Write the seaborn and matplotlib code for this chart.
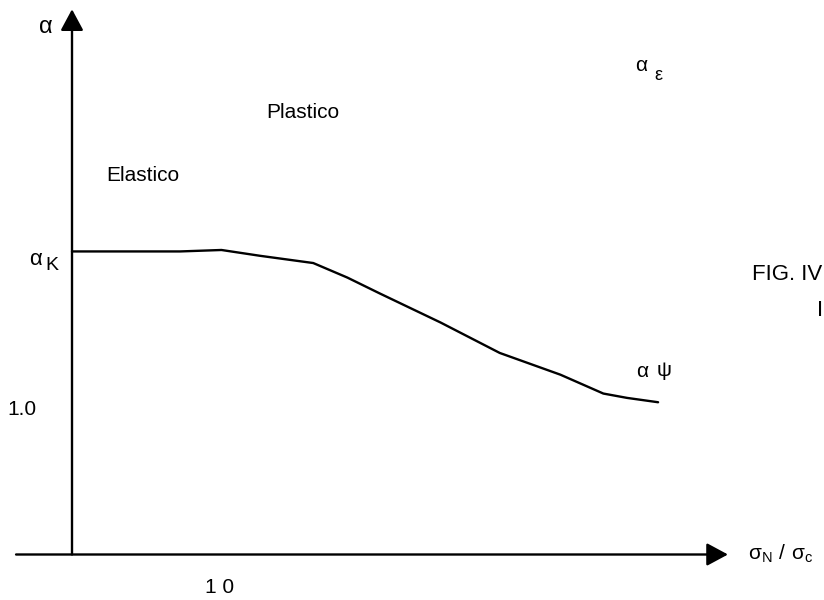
import matplotlib
matplotlib.use("Agg")
import matplotlib.pyplot as plt
import seaborn as sns

# curve alpha vs sigma_N / sigma_c
ratio = [0, 0.73, 1.01, 1.27, 1.63, 1.86, 2.08, 2.49, 2.89, 3.30, 3.59, 3.75, 3.96]
alpha = [2.09, 2.09, 2.10, 2.06, 2.01, 1.91, 1.80, 1.60, 1.39, 1.24, 1.11, 1.08, 1.05]

x_tick_label = "1 0"
y_tick_label = "1.0"
region_labels = ["Plastico", "Elastico"]
fig_caption = ["FIG. IV", "I"]


def main():
    sns.set_style("white")
    plt.rcParams['font.family'] = ['Liberation Sans', 'DejaVu Sans']
    plt.rcParams['text.color'] = 'black'

    fig = plt.figure(figsize=(8.24, 6), dpi=100)
    ax = fig.add_axes([0, 0, 1, 1])
    ax.set_xlim(-0.4865, 5.081)
    ax.set_ylim(-0.3138, 3.824)
    ax.axis('off')

    # axes with arrow heads
    arrow = dict(arrowstyle="-|>,head_length=0.65,head_width=0.35", lw=1.7,
                 color="black", shrinkA=0, shrinkB=0, mutation_scale=20)
    ax.annotate("", xy=(4.432, 0), xytext=(-0.378, 0), arrowprops=arrow)
    ax.annotate("", xy=(0, 3.76), xytext=(0, 0), arrowprops=arrow)

    sns.lineplot(x=ratio, y=alpha, color="black", lw=1.7, ax=ax, sort=False)

    fs = 15
    ax.text(-0.176, 3.638, "α", fontsize=17, ha="center", va="center")
    ax.text(-0.25, 2.031, "α", fontsize=16, ha="center", va="center")
    ax.text(-0.135, 1.99, "K", fontsize=14, ha="center", va="center")
    ax.text(-0.338, 0.997, y_tick_label, fontsize=fs, ha="center", va="center")
    ax.text(1.0, -0.231, x_tick_label, fontsize=fs, ha="center", va="center")
    ax.text(1.561, 3.045, region_labels[0], fontsize=fs, ha="center", va="center")
    ax.text(0.480, 2.617, region_labels[1], fontsize=fs, ha="center", va="center")

    ax.text(3.845, 3.369, "α", fontsize=15, ha="center", va="center")
    ax.text(3.96, 3.30, "ε", fontsize=13, ha="center", va="center")
    ax.text(3.851, 1.259, "α", fontsize=15, ha="center", va="center")
    ax.text(4.0, 1.272, "ψ", fontsize=15, ha="center", va="center")

    ax.text(4.568, 0.003, r"$\mathregular{\sigma_N\ /\ \sigma_c}$", fontsize=fs,
            ha="left", va="center")
    ax.text(4.595, 1.934, fig_caption[0], fontsize=16, ha="left", va="center")
    ax.text(5.035, 1.686, fig_caption[1], fontsize=16, ha="left", va="center")

    fig.savefig("out.png", dpi=100)


if __name__ == "__main__":
    main()
